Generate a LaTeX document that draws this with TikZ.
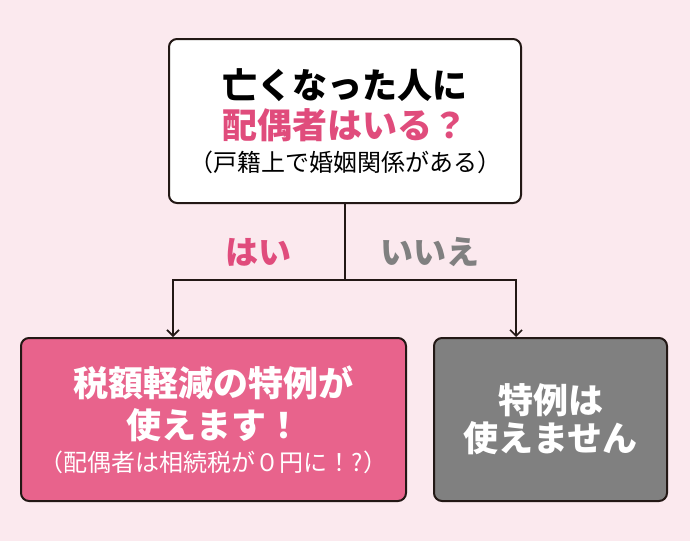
\documentclass[tikz,border=0pt]{standalone}
\usepackage{fontspec}
\usepackage{xcolor}
\usepackage{tikz}
\usetikzlibrary{positioning,arrows.meta}
\newfontfamily\jpfont{Noto Sans CJK JP}
\definecolor{bgcolor}{RGB}{251,233,238}
\definecolor{yescolor}{RGB}{232,99,140}
\definecolor{yestext}{RGB}{224,76,124}
\definecolor{nocolor}{RGB}{128,128,128}
\definecolor{linecolor}{RGB}{35,24,21}
\tikzset{
    box/.style={rectangle, rounded corners=8pt, draw=linecolor, line width=2pt, inner sep=0pt, align=center},
    question box/.style={box, fill=white, minimum width=352pt, minimum height=164pt},
    yes box/.style={box, fill=yescolor, text=white, minimum width=385pt, minimum height=163pt},
    no box/.style={box, fill=nocolor, text=white, minimum width=233pt, minimum height=163pt},
    big text/.style={font=\jpfont\bfseries\fontsize{35}{42}\selectfont},
    answer label/.style={font=\jpfont\bfseries\fontsize{33}{36}\selectfont},
    branch arrow/.style={-{Straight Barb[length=6pt,width=12pt]}, line width=1.6pt, draw=linecolor}
}
\newcommand{\smallline}[1]{{\fontsize{24}{30}\mdseries\selectfont #1}}
\begin{document}
\begin{tikzpicture}[x=1pt,y=-1pt]
\fill[bgcolor] (0,0) rectangle (690,541);
\useasboundingbox (0,0) rectangle (690,541);

\node[question box, big text] (question) at (345,121)
    {亡くなった人に\\[-2pt]\textcolor{yestext}{配偶者はいる？}\\[-9pt]\smallline{（戸籍上で婚姻関係がある）}};
\node[yes box, big text] (yes) at (213.5,419.5)
    {税額軽減の特例が\\[0pt]使えます！\\[-9pt]\smallline{（配偶者は相続税が０円に！?）}};
\node[no box, big text] (no) at (550.5,419.5)
    {特例は\\[-4pt]使えません};

\node[answer label, text=yestext] (yes label) at (258,252) {はい};
\node[answer label, text=nocolor] (no label) at (430,252) {いいえ};

\coordinate (split) at (345,280);
\coordinate (yes drop) at (173,280);
\coordinate (no drop) at (516,280);
\draw[line width=1.6pt, draw=linecolor] (question.south) -- (split);
\draw[branch arrow] (split) -- (yes drop) -- (yes drop |- yes.north);
\draw[branch arrow] (split) -- (no drop) -- (no drop |- no.north);
\end{tikzpicture}
\end{document}
